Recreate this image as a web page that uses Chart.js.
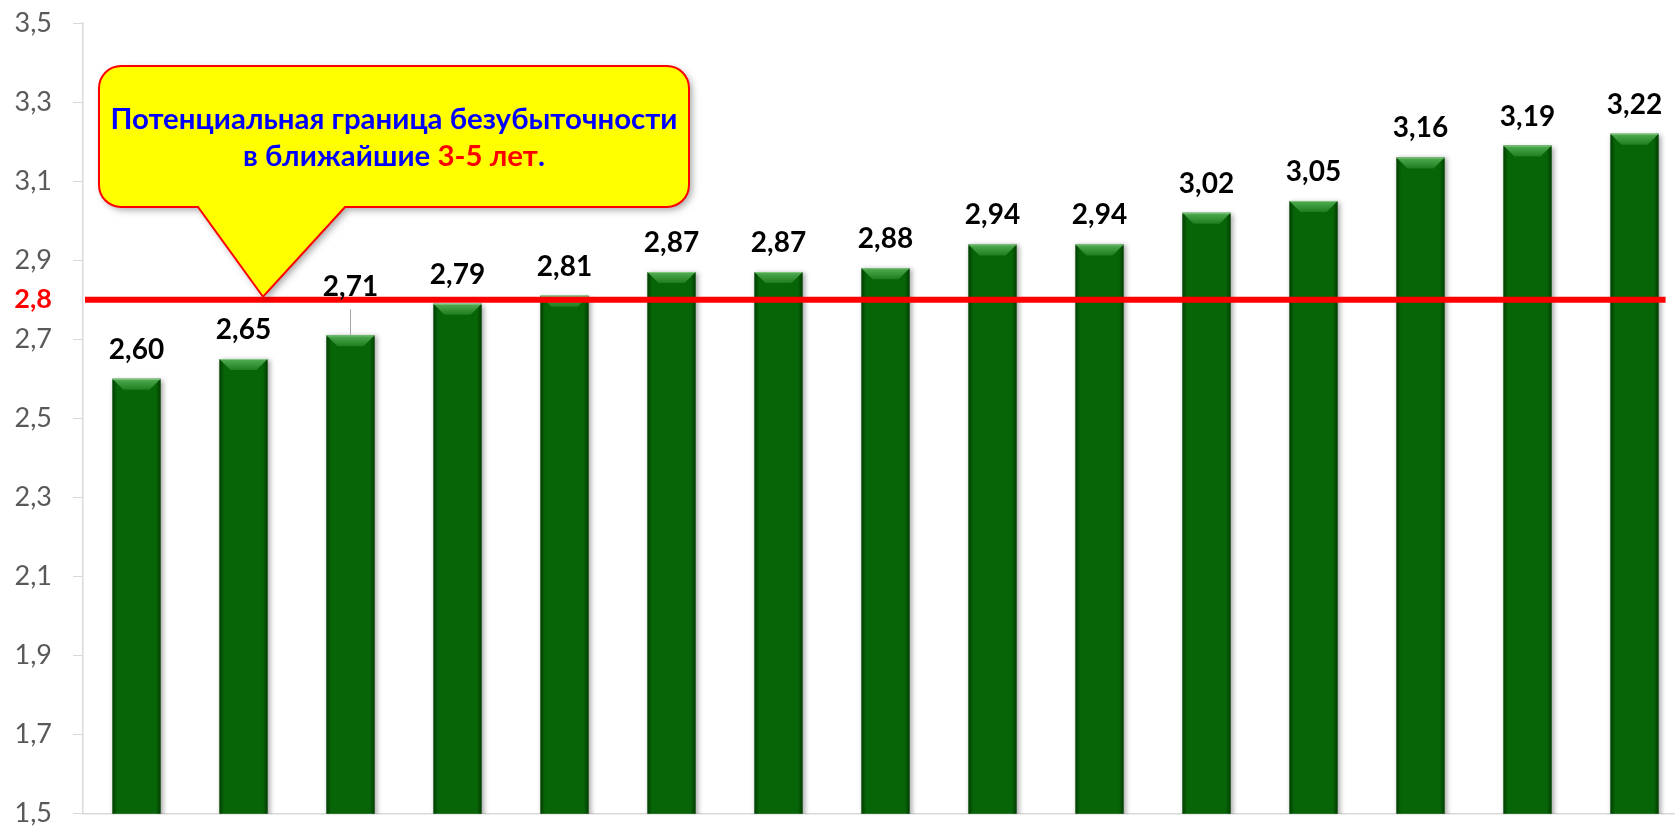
<!DOCTYPE html>
<html>
<head>
<meta charset="utf-8">
<script src="https://cdn.jsdelivr.net/npm/chart.js@4.4.1/dist/chart.umd.min.js"></script>
<style>
    html, body { margin: 0; padding: 0; background: #fff; overflow: hidden; }
    #wrap { width: 1675px; height: 826px; overflow: hidden; }
</style>
</head>
<body>
<div id="wrap"><canvas id="breakEvenChart" width="1700" height="835"></canvas></div>
<script>
// данные
const categories = ['1', '2', '3', '4', '5', '6', '7', '8', '9', '10', '11', '12', '13', '14', '15'];
const values = [2.60, 2.65, 2.71, 2.79, 2.81, 2.87, 2.87, 2.88, 2.94, 2.94, 3.02, 3.05, 3.16, 3.19, 3.22];
const threshold = 2.8;
const yMin = 1.5;
const yMax = 3.5;
const yStep = 0.2;
const calloutLine1 = 'Потенциальная граница безубыточности';
const calloutLine2 = [
    ['в ближайшие ', '#0000ff'],
    ['3-5 лет', '#ff0000'],
    ['.', '#0000ff']
];

const FONT = 'Lato, "Open Sans", sans-serif';
const fmt = (v, d) => v.toFixed(d).replace('.', ',');

const barDecor = {
    id: 'barDecor',
    beforeDatasetsDraw(chart) {
        const ctx = chart.ctx;
        ctx.save();
        ctx.shadowColor = 'rgba(0,0,0,0.35)';
        ctx.shadowBlur = 5;
        ctx.shadowOffsetX = 2;
        ctx.shadowOffsetY = 1;
    },
    afterDatasetsDraw(chart) {
        const ctx = chart.ctx;
        ctx.restore();

        const meta = chart.getDatasetMeta(0);
        const yScale = chart.scales.y;
        const area = chart.chartArea;

        // bevel on every bar
        meta.data.forEach(bar => {
            const l = bar.x - bar.width / 2, r = bar.x + bar.width / 2;
            const t = bar.y, bot = Math.min(bar.base, area.bottom);
            const b = 11;

            let g = ctx.createLinearGradient(l, 0, r, 0);
            g.addColorStop(0, 'rgba(0,35,0,0.6)');
            g.addColorStop(0.1, 'rgba(0,35,0,0)');
            g.addColorStop(0.9, 'rgba(0,35,0,0)');
            g.addColorStop(1, 'rgba(0,35,0,0.6)');
            ctx.fillStyle = g;
            ctx.fillRect(l, t, r - l, bot - t);

            ctx.beginPath();
            ctx.moveTo(l, t);
            ctx.lineTo(r, t);
            ctx.lineTo(r - b, t + b);
            ctx.lineTo(l + b, t + b);
            ctx.closePath();
            let g2 = ctx.createLinearGradient(0, t, 0, t + b);
            g2.addColorStop(0, '#52ad52');
            g2.addColorStop(1, '#1f7d1f');
            ctx.fillStyle = g2;
            ctx.fill();

            ctx.fillStyle = 'rgba(150,210,150,0.7)';
            ctx.fillRect(l, t, r - l, 1);
        });

        // линия порога
        const yT = yScale.getPixelForValue(threshold);
        const lastBar = meta.data[meta.data.length - 1];
        ctx.save();
        ctx.strokeStyle = '#ff0000';
        ctx.lineWidth = 6;
        ctx.beginPath();
        ctx.moveTo(area.left + 2, yT);
        ctx.lineTo(lastBar.x + lastBar.width / 2 + 7, yT);
        ctx.stroke();
        ctx.restore();

        // подписи
        ctx.save();
        ctx.font = 'bold 28px ' + FONT;
        ctx.fillStyle = '#000';
        ctx.textAlign = 'center';
        ctx.textBaseline = 'alphabetic';
        meta.data.forEach((bar, i) => {
            let off = 20;
            if (i === 2) {
                off = 39;
                ctx.save();
                ctx.strokeStyle = '#a6a6a6';
                ctx.lineWidth = 1;
                ctx.beginPath();
                ctx.moveTo(bar.x, bar.y - 26);
                ctx.lineTo(bar.x, bar.y);
                ctx.stroke();
                ctx.restore();
            }
            ctx.fillText(fmt(values[i], 2), bar.x, bar.y - off);
        });
        ctx.restore();

        // выноска
        const box = { l: 99, t: 66, r: 689, b: 207, rad: 22 };
        const tipX = 263, tipY = yT - 3, baseL = 198, baseR = 345;
        ctx.save();
        ctx.beginPath();
        ctx.moveTo(box.l + box.rad, box.t);
        ctx.lineTo(box.r - box.rad, box.t);
        ctx.arcTo(box.r, box.t, box.r, box.t + box.rad, box.rad);
        ctx.lineTo(box.r, box.b - box.rad);
        ctx.arcTo(box.r, box.b, box.r - box.rad, box.b, box.rad);
        ctx.lineTo(baseR, box.b);
        ctx.lineTo(tipX, tipY);
        ctx.lineTo(baseL, box.b);
        ctx.lineTo(box.l + box.rad, box.b);
        ctx.arcTo(box.l, box.b, box.l, box.b - box.rad, box.rad);
        ctx.lineTo(box.l, box.t + box.rad);
        ctx.arcTo(box.l, box.t, box.l + box.rad, box.t, box.rad);
        ctx.closePath();
        ctx.shadowColor = 'rgba(0,0,0,0.35)';
        ctx.shadowBlur = 7;
        ctx.shadowOffsetX = 3;
        ctx.shadowOffsetY = 3;
        ctx.fillStyle = '#ffff00';
        ctx.fill();
        ctx.shadowColor = 'transparent';
        ctx.strokeStyle = '#ff0000';
        ctx.lineWidth = 2;
        ctx.stroke();

        // текст: 28px, растянут по ширине первой строки
        const cx = (box.l + box.r) / 2;
        ctx.font = 'bold 28px ' + FONT;
        const sx = 567 / ctx.measureText(calloutLine1).width;
        ctx.translate(cx, 0);
        ctx.scale(sx, 1);
        ctx.textBaseline = 'alphabetic';
        ctx.textAlign = 'center';
        ctx.fillStyle = '#0000ff';
        ctx.fillText(calloutLine1, 0, 129);

        ctx.textAlign = 'left';
        const total = calloutLine2.reduce((s, p) => s + ctx.measureText(p[0]).width, 0);
        let x = -total / 2;
        calloutLine2.forEach(([txt, col]) => {
            ctx.fillStyle = col;
            ctx.fillText(txt, x, 166);
            x += ctx.measureText(txt).width;
        });
        ctx.restore();
    }
};

new Chart(document.getElementById('breakEvenChart'), {
    type: 'bar',
    data: {
        labels: categories,
        datasets: [{
            data: values,
            backgroundColor: '#076507',
            borderWidth: 0,
            barPercentage: 0.45,
            categoryPercentage: 1
        }]
    },
    options: {
        responsive: false,
        animation: false,
        layout: { padding: { top: 23, bottom: 14, left: 0, right: 12 } },
        plugins: {
            legend: { display: false },
            tooltip: { enabled: false }
        },
        scales: {
            x: {
                ticks: { display: false },
                grid: { display: false },
                border: { color: '#d9d9d9', width: 1.5 },
                afterFit: s => { s.height = 0; }
            },
            y: {
                min: yMin,
                max: yMax,
                afterFit: s => { s.width = 83; },
                afterBuildTicks: s => {
                    s.ticks.push({ value: threshold });
                    s.ticks.sort((a, b) => a.value - b.value);
                },
                ticks: {
                    stepSize: yStep,
                    autoSkip: false,
                    padding: 21,
                    callback: v => fmt(v, 1),
                    color: c => c.tick && c.tick.value === threshold ? '#ff0000' : '#595959',
                    font: c => ({
                        family: FONT,
                        size: 27,
                        lineHeight: 0.02,
                        weight: c.tick && c.tick.value === threshold ? 'bold' : 'normal'
                    })
                },
                grid: {
                    drawOnChartArea: false,
                    tickLength: 10,
                    tickColor: c => c.tick && c.tick.value === threshold ? 'rgba(0,0,0,0)' : '#d9d9d9'
                },
                border: { color: '#d9d9d9', width: 1.5 }
            }
        }
    },
    plugins: [barDecor]
});
</script>
</body>
</html>
